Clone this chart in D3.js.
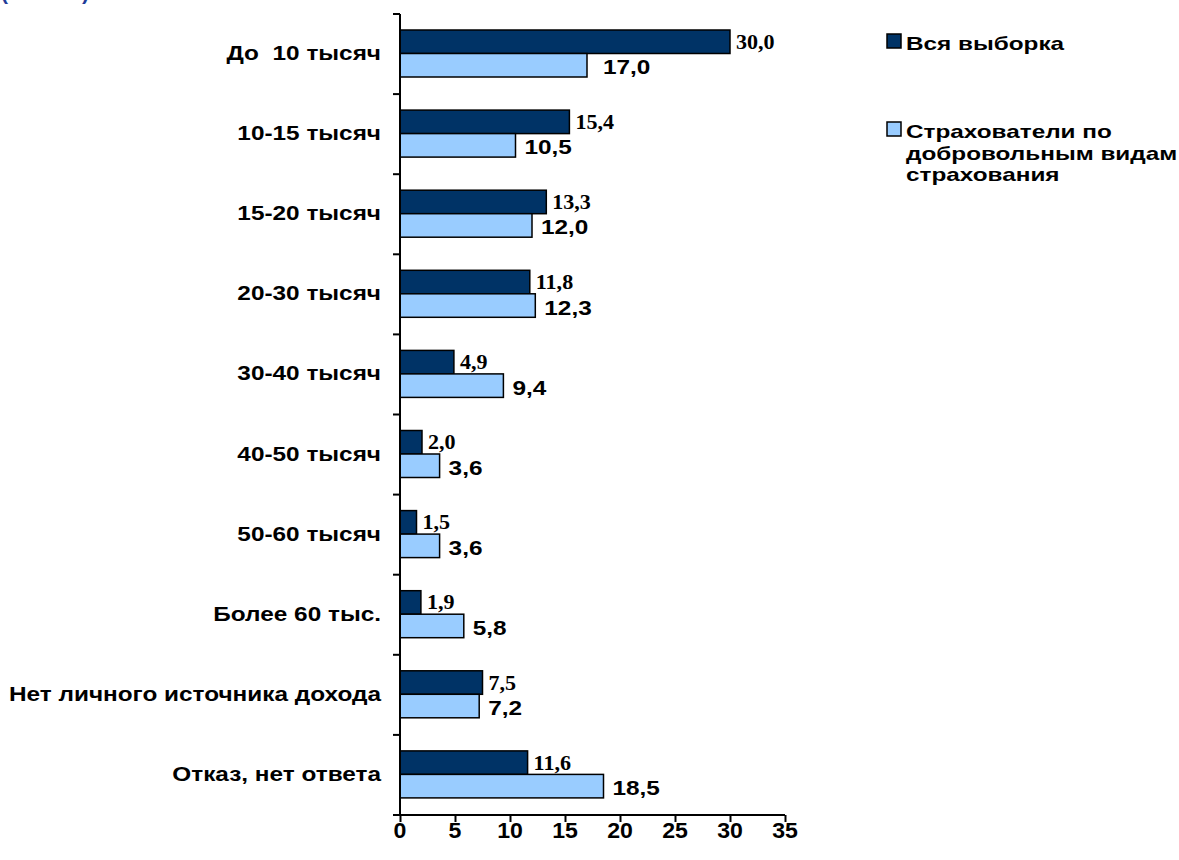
<!DOCTYPE html>
<html><head><meta charset="utf-8">
<script src="https://cdn.jsdelivr.net/npm/d3@7"></script>
<style>body{margin:0;background:#fff}svg{display:block}</style>
</head><body>
<script>
const categories = ["До  10 тысяч","10-15 тысяч","15-20 тысяч","20-30 тысяч","30-40 тысяч","40-50 тысяч","50-60 тысяч","Более 60 тыс.","Нет личного источника дохода","Отказ, нет ответа"];
const allSample = [30.0,15.4,13.3,11.8,4.9,2.0,1.5,1.9,7.5,11.6];
const voluntary = [17.0,10.5,12.0,12.3,9.4,3.6,3.6,5.8,7.2,18.5];
const seriesNames = ["Вся выборка","Страхователи по добровольным видам страхования"];
const xTicks = [0,5,10,15,20,25,30,35];

const W=1179,H=860;
const SX=1.16, FS=21;
const sans="Liberation Sans, Arial, sans-serif", serif="Liberation Serif, Times New Roman, serif";
const svg=d3.select("body").append("svg").attr("width",W).attr("height",H);
const fmt=v=>v.toFixed(1).replace(".",",");
const x=d3.scaleLinear().domain([0,35]).range([400,785]);
const y=d3.scaleBand().domain(categories).range([14,815]);
const dark="#003366", light="#99ccff";

function label(parent,px,py,txt,opts={}){
  return parent.append("text")
    .attr("transform",`translate(${px},${py}) scale(${opts.sx||SX},1)`)
    .attr("text-anchor",opts.anchor||"start")
    .attr("font-family",opts.family||sans).attr("font-weight","bold")
    .attr("font-size",opts.size||FS).attr("fill",opts.fill||"#000")
    .style("white-space","pre").text(txt);
}

// partial title at top (cut off in the original)
label(svg,1,0,"(в %)",{fill:"#1f3c99",sx:1}).attr("textLength",88).attr("lengthAdjust","spacing");

const bw=23.5;
const g=svg.append("g");
categories.forEach((c,i)=>{
  const y0=y(c)+16;
  g.append("rect").attr("x",x(0)).attr("y",y0).attr("width",x(allSample[i])-x(0)).attr("height",bw)
    .attr("fill",dark).attr("stroke","#000").attr("stroke-width",1.5);
  g.append("rect").attr("x",x(0)).attr("y",y0+bw).attr("width",x(voluntary[i])-x(0)).attr("height",bw)
    .attr("fill",light).attr("stroke","#000").attr("stroke-width",1.5);
  label(g,x(allSample[i])+6,y0+bw/2+7,fmt(allSample[i]),{family:serif,size:21,sx:1.05});
  label(g,x(voluntary[i])+(i===0?16:9),y0+bw*1.5+9,fmt(voluntary[i]));
});

// y axis
svg.append("line").attr("x1",400).attr("x2",400).attr("y1",y.range()[0]).attr("y2",y.range()[1]).attr("stroke","#000").attr("stroke-width",2);
categories.forEach(c=>svg.append("line").attr("x1",393).attr("x2",400).attr("y1",y(c)).attr("y2",y(c)).attr("stroke","#000").attr("stroke-width",2));
categories.forEach(c=>label(svg,381,y(c)+y.bandwidth()/2+6,c,{anchor:"end"}));

// x axis
const xa=svg.append("g").attr("transform","translate(0,815)")
  .call(d3.axisBottom(x).tickValues(xTicks).tickSize(7).tickFormat(""));
xa.select(".domain").attr("d","M393,0H785").attr("stroke-width",2);
xa.selectAll(".tick line").attr("stroke-width",2);
xTicks.forEach(t=>label(svg,x(t),838,String(t),{anchor:"middle",size:22,sx:1.05}));

// legend
const leg=svg.append("g");
const legItems=[{c:dark,lines:[seriesNames[0]],y:34},{c:light,lines:["Страхователи по","добровольным видам","страхования"],y:122}];
legItems.forEach(it=>{
  leg.append("rect").attr("x",887).attr("y",it.y).attr("width",14).attr("height",14).attr("fill",it.c).attr("stroke","#000").attr("stroke-width",1.5);
  it.lines.forEach((l,j)=>label(leg,906,it.y+16+j*21.5,l,{size:19,sx:1.28}));
});
</script>
</body></html>
